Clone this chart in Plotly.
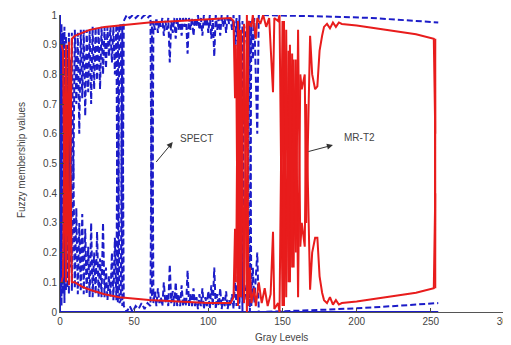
import plotly.graph_objects as go

# ---------------- data ----------------
spect_hi_x = [0, 0.5, 1, 2, 3, 4, 5, 6, 7, 8, 9, 10, 11, 12, 13, 14, 15, 16, 17, 18, 19, 20,
              21, 22, 23, 24, 25, 26, 27, 28, 29, 30, 31, 32, 33, 34, 35, 36, 37, 38, 39, 40,
              41, 42, 43, 45, 47, 49, 51, 53, 55, 57, 59, 61, 62, 63, 64, 65, 66, 67, 68, 69,
              70, 71, 72, 73, 74, 75, 76, 77, 78, 79, 80, 81, 82, 83, 84, 85, 86, 87, 88, 89,
              90, 91, 92, 93, 94, 95, 96, 97, 98, 99, 100, 101, 102, 103, 104, 105, 106, 107,
              108, 109, 110, 111, 112, 113, 114, 115, 116, 117, 118, 119, 120, 121, 123, 124,
              126, 128, 129, 130, 131, 133, 134, 136, 150, 180, 210, 240, 255]
spect_hi_y = [0.0, 0.93, 0.02, 0.94, 0.03, 0.93, 0.08, 0.94, 0.15, 0.94, 0.45, 0.95, 0.7, 0.94,
              0.6, 0.95, 0.72, 0.95, 0.66, 0.95, 0.74, 0.95, 0.7, 0.96, 0.75, 0.96, 0.78, 0.96,
              0.75, 0.96, 0.8, 0.96, 0.82, 0.96, 0.86, 0.96, 0.84, 0.96, 0.8, 0.97, 0.03, 0.97,
              0.96, 0.02, 0.98, 1.0, 0.99, 1.0, 0.99, 1.0, 0.99, 1.0, 0.99, 1.0, 0.05, 0.98,
              0.95, 0.99, 0.94, 0.98, 0.96, 0.99, 0.93, 0.98, 0.95, 0.99, 0.84, 0.98, 0.94, 0.99,
              0.92, 0.99, 0.95, 0.99, 0.93, 0.99, 0.96, 0.99, 0.87, 0.99, 0.95, 0.99, 0.93, 0.99,
              0.96, 1.0, 0.95, 0.99, 0.93, 1.0, 0.96, 0.99, 0.94, 1.0, 0.92, 0.99, 0.86, 1.0,
              0.95, 0.99, 0.93, 1.0, 0.96, 0.99, 0.94, 1.0, 0.97, 0.99, 0.95, 1.0, 0.9, 0.99,
              0.85, 1.0, 0.0, 0.97, 0.9, 0.0, 0.98, 0.85, 0.99, 0.6, 1.0, 1.0, 0.998, 0.995,
              0.99, 0.98, 0.975]

spect_lo_x = [0.5, 1, 2, 3, 4, 5, 6, 7, 8, 9, 10, 11, 12, 13, 14, 15, 16, 17, 18, 19, 20,
              21, 22, 23, 24, 25, 26, 27, 28, 29, 30, 31, 32, 33, 34, 35, 36, 37, 38, 39, 40,
              41, 42, 43, 45, 47, 49, 51, 53, 55, 57, 59, 61, 62, 63, 64, 65, 66, 67, 68, 69,
              70, 71, 72, 73, 74, 75, 76, 77, 78, 79, 80, 81, 82, 83, 84, 85, 86, 87, 88, 89,
              90, 91, 92, 93, 94, 95, 96, 97, 98, 99, 100, 101, 102, 103, 104, 105, 106, 107,
              108, 109, 110, 111, 112, 113, 114, 115, 116, 117, 118, 119, 120, 121, 123, 124,
              126, 128, 129, 130, 131, 133, 134, 136, 150, 180, 210, 240, 255]
spect_lo_y = [0.07, 0.97, 0.06, 0.96, 0.07, 0.9, 0.06, 0.85, 0.07, 0.5, 0.08, 0.35, 0.06, 0.3,
              0.07, 0.33, 0.06, 0.28, 0.06, 0.22, 0.05, 0.3, 0.05, 0.2, 0.06, 0.27, 0.05, 0.18,
              0.05, 0.3, 0.05, 0.15, 0.04, 0.12, 0.05, 0.2, 0.04, 0.25, 0.04, 0.96, 0.03, 0.04,
              0.97, 0.02, 0.0, 0.02, 0.0, 0.02, 0.01, 0.03, 0.01, 0.03, 0.02, 0.98, 0.03, 0.07,
              0.02, 0.08, 0.03, 0.05, 0.02, 0.1, 0.03, 0.06, 0.02, 0.16, 0.03, 0.07, 0.02, 0.1,
              0.02, 0.06, 0.02, 0.09, 0.02, 0.05, 0.02, 0.14, 0.02, 0.06, 0.02, 0.08, 0.02, 0.05,
              0.01, 0.06, 0.02, 0.08, 0.01, 0.05, 0.02, 0.07, 0.01, 0.09, 0.02, 0.15, 0.01, 0.06,
              0.02, 0.08, 0.01, 0.05, 0.02, 0.07, 0.01, 0.04, 0.02, 0.06, 0.01, 0.1, 0.02, 0.15,
              0.01, 0.98, 0.03, 0.1, 0.98, 0.02, 0.15, 0.03, 0.2, 0.0, 0.0, 0.002, 0.008, 0.015,
              0.025, 0.03]

mrt2_hi_x = [1, 2, 3, 4, 5, 6, 7, 8, 10, 15, 20, 30, 40, 50, 60, 80, 100, 115, 117, 118,
             118.5, 119, 120, 121, 122, 124, 126, 127, 129, 130, 132, 133, 135, 137, 139, 141,
             143.6, 144.5, 147, 148, 150, 151, 152.5, 154, 155, 156.5, 157.5, 159, 160.5, 162,
             163, 165, 166, 168.6, 170, 172, 173.5, 175, 176.7, 178, 180, 182, 184, 186, 188,
             190, 200, 220, 240, 252, 253, 252.8, 253.2, 253]
mrt2_hi_y = [0.9, 0.88, 0.4, 0.9, 0.38, 0.91, 0.5, 0.92, 0.93, 0.94, 0.95, 0.96, 0.965, 0.97,
             0.975, 0.98, 0.985, 0.99, 0.98, 0.72, 0.9, 0.72, 0.02, 0.95, 0.05, 0.97, 0.0, 0.98,
             0.96, 1.0, 0.92, 0.99, 0.97, 1.0, 0.96, 0.99, 0.74, 0.99, 0.98, 1.0, 0.02, 0.98,
             0.05, 0.88, 0.1, 0.87, 0.15, 0.85, 0.05, 0.8, 0.75, 0.8, 0.3, 0.93, 0.8, 0.75,
             0.76, 0.88, 0.93, 0.96, 0.97, 0.955, 0.975, 0.96, 0.975, 0.97, 0.965, 0.95, 0.935,
             0.92, 0.6, 0.85, 0.3, 0.08]

mrt2_lo_x = [1, 2, 3, 4, 5, 6, 7, 8, 10, 15, 20, 30, 40, 50, 60, 80, 100, 115, 117, 118,
             118.5, 119, 120, 121, 122, 124, 126, 127, 128, 129, 131, 132, 134, 136, 138, 140,
             142, 143.6, 144.5, 147, 148, 150, 151, 152.5, 154, 155, 156.5, 157.5, 159, 160.5,
             162, 163, 165, 166, 168.6, 170, 172, 173.5, 175, 176.7, 178, 180, 182, 184, 186,
             188, 190, 200, 220, 240, 252, 253, 252.8, 253.2, 253]
mrt2_lo_y = [0.1, 0.12, 0.6, 0.1, 0.62, 0.09, 0.5, 0.1, 0.1, 0.085, 0.075, 0.06, 0.05, 0.045,
             0.04, 0.035, 0.03, 0.03, 0.05, 0.28, 0.1, 0.28, 0.98, 0.05, 0.95, 0.03, 1.0, 0.02,
             0.15, 0.03, 0.08, 0.02, 0.1, 0.03, 0.08, 0.02, 0.06, 0.27, 0.01, 0.03, 0.0, 0.98,
             0.02, 0.95, 0.1, 0.9, 0.15, 0.85, 0.2, 0.95, 0.22, 0.3, 0.22, 0.7, 0.075, 0.2,
             0.25, 0.25, 0.12, 0.065, 0.04, 0.03, 0.05, 0.025, 0.04, 0.025, 0.03, 0.035, 0.05,
             0.065, 0.08, 0.4, 0.15, 0.7, 0.92]

base_x = [0, 0, 255]
base_y = [1, 0, 0]

x_ticks = [0, 50, 100, 150, 200, 250, 300]
y_ticks = [0, 0.1, 0.2, 0.3, 0.4, 0.5, 0.6, 0.7, 0.8, 0.9, 1]

BLUE = "#1c1cc8"
RED = "#e81c1c"

fig = go.Figure()
fig.add_trace(go.Scatter(x=base_x, y=base_y, mode="lines",
                         line=dict(color=BLUE, width=2), hoverinfo="skip"))
fig.add_trace(go.Scatter(x=spect_hi_x, y=spect_hi_y, mode="lines",
                         line=dict(color=BLUE, width=2, dash="6px,3px")))
fig.add_trace(go.Scatter(x=spect_lo_x, y=spect_lo_y, mode="lines",
                         line=dict(color=BLUE, width=2, dash="6px,3px")))
fig.add_trace(go.Scatter(x=mrt2_hi_x, y=mrt2_hi_y, mode="lines",
                         line=dict(color=RED, width=2)))
fig.add_trace(go.Scatter(x=mrt2_lo_x, y=mrt2_lo_y, mode="lines",
                         line=dict(color=RED, width=2)))

font = dict(family="Liberation Sans, Arial, sans-serif", size=10, color="#444444")

# the page body has an 8px margin, so the figure is drawn 8px smaller
fig.update_layout(
    width=503, height=337,
    margin=dict(l=52, r=6, t=7, b=33),
    paper_bgcolor="white", plot_bgcolor="white",
    showlegend=False,
    font=font,
    xaxis=dict(range=[0, 300], tickvals=x_ticks, ticks="inside", ticklen=4,
               showline=True, linecolor="#555555", linewidth=1, showgrid=False,
               zeroline=False, automargin=False, ticklabeloverflow="allow",
               tickfont=font),
    yaxis=dict(range=[0, 1], tickvals=y_ticks, ticks="inside", ticklen=4,
               showline=True, linecolor="#555555", linewidth=1, showgrid=False,
               zeroline=False, automargin=False, tickfont=font),
    annotations=[
        dict(x=76, y=0.572, ax=64, ay=0.50, axref="x", ayref="y", xref="x", yref="y",
             text="", showarrow=True, arrowhead=2, arrowsize=1.2, arrowwidth=1,
             arrowcolor="#333333"),
        dict(x=79.5, y=0.585, xref="x", yref="y", text="SPECT", showarrow=False,
             xanchor="left", font=font),
        dict(x=184, y=0.562, ax=166.5, ay=0.539, axref="x", ayref="y", xref="x", yref="y",
             text="", showarrow=True, arrowhead=2, arrowsize=1.2, arrowwidth=1,
             arrowcolor="#333333"),
        dict(x=190, y=0.589, xref="x", yref="y", text="MR-T2", showarrow=False,
             xanchor="left", font=font),
        dict(x=0.497, y=-0.085, xref="paper", yref="paper", text="Gray Levels",
             showarrow=False, xanchor="center", yanchor="middle", font=font),
        dict(x=-0.085, y=0.512, xref="paper", yref="paper", text="Fuzzy membership values",
             showarrow=False, xanchor="center", yanchor="middle", textangle=-90, font=font),
    ],
)

fig.write_html("out.html")
